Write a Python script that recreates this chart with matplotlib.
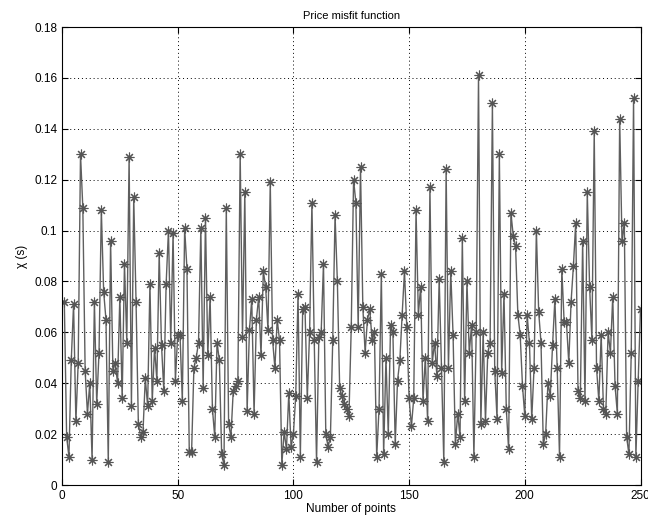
import matplotlib
matplotlib.use("Agg")
import matplotlib.pyplot as plt
import numpy as np

plt.rcParams['font.family'] = ['Liberation Sans', 'DejaVu Sans']

misfit = [
    0.072, 0.019, 0.011, 0.049, 0.071, 0.025, 0.048, 0.130, 0.109, 0.045,
    0.028, 0.040, 0.010, 0.072, 0.032, 0.052, 0.108, 0.076, 0.065, 0.009,
    0.096, 0.045, 0.048, 0.040, 0.074, 0.034, 0.087, 0.056, 0.129, 0.031,
    0.113, 0.072, 0.024, 0.019, 0.021, 0.042, 0.031, 0.079, 0.033, 0.054,
    0.041, 0.091, 0.055, 0.037, 0.079, 0.100, 0.056, 0.099, 0.041, 0.059,
    0.059, 0.033, 0.101, 0.085, 0.013, 0.013, 0.046, 0.050, 0.056, 0.101,
    0.038, 0.105, 0.051, 0.074, 0.030, 0.019, 0.056, 0.049, 0.012, 0.008,
    0.109, 0.024, 0.019, 0.037, 0.039, 0.041, 0.130, 0.058, 0.115, 0.029,
    0.061, 0.073, 0.028, 0.065, 0.074, 0.051, 0.084, 0.078, 0.061, 0.119,
    0.057, 0.046, 0.065, 0.057, 0.008, 0.021, 0.014, 0.036, 0.015, 0.020,
    0.035, 0.075, 0.011, 0.069, 0.070, 0.034, 0.060, 0.111, 0.057, 0.009,
    0.058, 0.060, 0.087, 0.020, 0.015, 0.019, 0.057, 0.106, 0.080, 0.038,
    0.035, 0.032, 0.030, 0.027, 0.062, 0.120, 0.111, 0.062, 0.125, 0.070,
    0.052, 0.065, 0.069, 0.057, 0.060, 0.011, 0.030, 0.083, 0.012, 0.050,
    0.020, 0.063, 0.060, 0.016, 0.041, 0.049, 0.067, 0.084, 0.062, 0.034,
    0.023, 0.034, 0.108, 0.067, 0.078, 0.033, 0.050, 0.025, 0.117, 0.048,
    0.056, 0.043, 0.081, 0.046, 0.009, 0.124, 0.046, 0.084, 0.059, 0.016,
    0.028, 0.019, 0.097, 0.033, 0.080, 0.052, 0.063, 0.011, 0.060, 0.161,
    0.024, 0.060, 0.025, 0.052, 0.056, 0.150, 0.045, 0.026, 0.130, 0.044,
    0.075, 0.030, 0.014, 0.107, 0.098, 0.094, 0.067, 0.059, 0.039, 0.027,
    0.067, 0.056, 0.026, 0.046, 0.100, 0.068, 0.056, 0.016, 0.020, 0.040,
    0.035, 0.055, 0.073, 0.046, 0.011, 0.085, 0.064, 0.064, 0.048, 0.072,
    0.086, 0.103, 0.037, 0.034, 0.096, 0.033, 0.115, 0.078, 0.057, 0.139,
    0.046, 0.033, 0.059, 0.030, 0.028, 0.060, 0.052, 0.074, 0.039, 0.028,
    0.144, 0.096, 0.103, 0.019, 0.012, 0.052, 0.152, 0.011, 0.041, 0.069,
]
points = list(range(1, len(misfit) + 1))

x_ticks = [0, 50, 100, 150, 200, 250]
y_ticks = [0, 0.02, 0.04, 0.06, 0.08, 0.1, 0.12, 0.14, 0.16, 0.18]
y_labels = ['0', '0.02', '0.04', '0.06', '0.08', '0.1', '0.12', '0.14', '0.16', '0.18']

fig = plt.figure(figsize=(6.48, 5.2), dpi=100)
ax = fig.add_axes([62/648, 1-485/520, (640.5-62)/648, (485-27)/520])

ax.plot(points, misfit, '-', color='#5f5f5f', linewidth=1.0)
ax.plot(points, misfit, linestyle='none', marker=(8, 2, 0), markersize=7,
        markeredgecolor='#555555', markeredgewidth=0.8)

ax.set_xlim(0, 250)
ax.set_ylim(0, 0.18)
ax.set_xticks(x_ticks)
ax.set_xticklabels([str(t) for t in x_ticks])
ax.set_yticks(y_ticks)
ax.set_yticklabels(y_labels)
ax.tick_params(direction='in', top=True, right=True, length=4, labelsize=8.5, width=0.8)
ax.grid(True, linestyle=(0, (1, 3)), color='black', linewidth=0.7)
for s in ax.spines.values():
    s.set_linewidth(0.8)

ax.set_title('Price misfit function', fontsize=8)
ax.set_xlabel('Number of points', fontsize=8.5, labelpad=1)
ax.set_ylabel('χ (s)', fontsize=8.5)

fig.savefig('out.png', dpi=100)
